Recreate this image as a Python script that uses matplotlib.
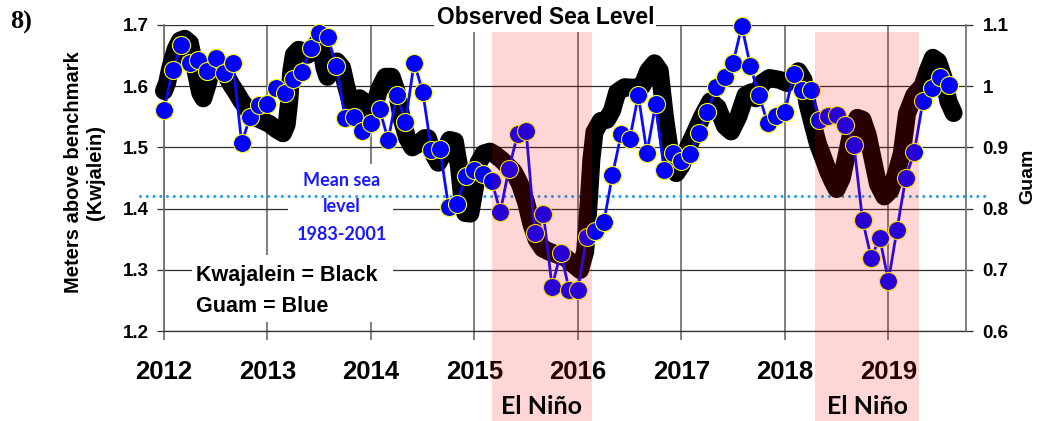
import matplotlib
matplotlib.use("Agg")
import matplotlib.pyplot as plt
import numpy as np
from matplotlib.patches import Rectangle
from matplotlib.transforms import blended_transform_factory
from matplotlib.ticker import FuncFormatter

# Kwajalein sea level, metres above benchmark (left axis)
kwaj_time = [
    2012.00, 2012.03, 2012.06, 2012.11, 2012.155, 2012.20, 2012.25, 2012.30,
    2012.35, 2012.38, 2012.42, 2012.46, 2012.51, 2012.56, 2012.605, 2012.65,
    2012.70, 2012.75, 2012.80, 2012.85, 2012.895, 2012.96, 2013.02, 2013.09,
    2013.15, 2013.185, 2013.21, 2013.23, 2013.255, 2013.30, 2013.345, 2013.39,
    2013.44, 2013.49, 2013.52, 2013.55, 2013.58, 2013.62, 2013.67, 2013.72,
    2013.76, 2013.80, 2013.85, 2013.89, 2013.93, 2013.97, 2014.02, 2014.08,
    2014.14, 2014.20, 2014.25, 2014.30, 2014.35, 2014.40, 2014.45, 2014.52,
    2014.55, 2014.60, 2014.65, 2014.70, 2014.76, 2014.81, 2014.85, 2014.88,
    2014.91, 2014.96, 2015.00, 2015.04, 2015.09, 2015.15, 2015.20, 2015.26,
    2015.32, 2015.38, 2015.44, 2015.50, 2015.55, 2015.60, 2015.66, 2015.72,
    2015.80, 2015.88, 2015.95, 2016.02, 2016.07, 2016.10, 2016.13, 2016.16,
    2016.22, 2016.28, 2016.33, 2016.38, 2016.45, 2016.55, 2016.62, 2016.68,
    2016.74, 2016.79, 2016.84, 2016.90, 2016.95, 2017.00, 2017.05, 2017.12,
    2017.20, 2017.28, 2017.35, 2017.42, 2017.48, 2017.55, 2017.62, 2017.68,
    2017.72, 2017.78, 2017.85, 2017.95, 2018.02, 2018.08, 2018.13, 2018.18,
    2018.22, 2018.27, 2018.32, 2018.37, 2018.42, 2018.46, 2018.50, 2018.55,
    2018.60, 2018.65, 2018.70, 2018.75, 2018.80, 2018.85, 2018.90, 2018.96,
    2019.02, 2019.08, 2019.13, 2019.18, 2019.25, 2019.33, 2019.38, 2019.43,
    2019.48, 2019.53, 2019.58, 2019.63,
]
kwaj_level = [
    1.592, 1.605, 1.629, 1.659, 1.674, 1.677, 1.670, 1.629,
    1.589, 1.580, 1.602, 1.629, 1.637, 1.632, 1.616, 1.602,
    1.589, 1.575, 1.564, 1.553, 1.548, 1.543, 1.538, 1.529,
    1.523, 1.537, 1.575, 1.624, 1.651, 1.659, 1.657, 1.651,
    1.659, 1.673, 1.662, 1.630, 1.615, 1.635, 1.640, 1.630,
    1.600, 1.575, 1.565, 1.580, 1.575, 1.555, 1.560, 1.595,
    1.615, 1.615, 1.590, 1.545, 1.515, 1.500, 1.505, 1.515,
    1.515, 1.490, 1.475, 1.490, 1.512, 1.510, 1.470, 1.420,
    1.393, 1.392, 1.430, 1.475, 1.490, 1.493, 1.488, 1.480,
    1.470, 1.460, 1.440, 1.410, 1.375, 1.350, 1.335, 1.330,
    1.325, 1.320, 1.310, 1.300, 1.330, 1.400, 1.480, 1.525,
    1.543, 1.545, 1.560, 1.590, 1.598, 1.597, 1.600, 1.625,
    1.637, 1.625, 1.550, 1.480, 1.458, 1.470, 1.495, 1.520,
    1.550, 1.575, 1.565, 1.535, 1.526, 1.550, 1.585, 1.590,
    1.580, 1.605, 1.613, 1.610, 1.605, 1.615, 1.624, 1.610,
    1.570, 1.537, 1.505, 1.483, 1.460, 1.445, 1.432, 1.450,
    1.490, 1.530, 1.548, 1.545, 1.520, 1.480, 1.440, 1.420,
    1.430, 1.460, 1.490, 1.555, 1.585, 1.600, 1.625, 1.646,
    1.640, 1.615, 1.575, 1.556,
]

# Guam monthly sea level from January 2012 (right axis)
guam_level = [
    0.961, 1.026, 1.067, 1.038, 1.042, 1.024, 1.046, 1.022, 1.038, 0.907, 0.950, 0.969,
    0.970, 0.997, 0.988, 1.011, 1.023, 1.062, 1.086, 1.080, 1.032, 0.948, 0.950, 0.926,
    0.939, 0.962, 0.912, 0.986, 0.941, 1.038, 0.991, 0.896, 0.897, 0.803, 0.808, 0.854,
    0.863, 0.856, 0.845, 0.795, 0.865, 0.921, 0.926, 0.760, 0.791, 0.673, 0.728, 0.667,
    0.667, 0.754, 0.763, 0.778, 0.855, 0.921, 0.913, 0.985, 0.891, 0.970, 0.863, 0.890,
    0.877, 0.889, 0.923, 0.957, 0.998, 1.015, 1.038, 1.098, 1.032, 0.985, 0.939, 0.951,
    0.958, 1.019, 0.994, 0.994, 0.945, 0.951, 0.952, 0.937, 0.904, 0.782, 0.720, 0.752,
    0.682, 0.766, 0.850, 0.892, 0.975, 0.997, 1.014, 1.001,
]
guam_time = 2012 + np.arange(len(guam_level)) / 12.0

year_ticks = [2012, 2013, 2014, 2015, 2016, 2017, 2018, 2019]
left_ticks = [1.2, 1.3, 1.4, 1.5, 1.6, 1.7]
right_ticks = [0.6, 0.7, 0.8, 0.9, 1.0, 1.1]
mean_sea_level = 1.42
el_nino_spans = [(2015.165, 2016.14), (2018.29, 2019.30)]

plt.rcParams["font.family"] = ["Liberation Sans", "DejaVu Sans"]
plt.rcParams["font.weight"] = "bold"

W, H = 1037, 421
fig = plt.figure(figsize=(W / 100, H / 100), dpi=100)


def fx(px):
    return px / W


def fy(py):
    return 1 - py / H


ax = fig.add_axes([fx(164), fy(331.3), fx(966 - 164), (331.3 - 24.7) / H])
ax.set_xlim(2012, 2019.75)
ax.set_ylim(1.2, 1.7)
ax2 = ax.twinx()
ax2.set_ylim(0.6, 1.1)

hgrid_col = "#2e2e2e"
vgrid_col = "#6a6a6a"
ax.set_axisbelow(True)
ax.yaxis.grid(True, color=hgrid_col, lw=0.9)
ax.xaxis.grid(True, color=vgrid_col, lw=1.2)
for side in ["top", "right"]:
    ax.spines[side].set_visible(False)
ax.spines["left"].set_color(vgrid_col)
ax.spines["left"].set_linewidth(1.2)
ax.spines["bottom"].set_color(hgrid_col)
ax.spines["bottom"].set_linewidth(0.9)
for side in ["top", "left", "bottom"]:
    ax2.spines[side].set_visible(False)
ax2.spines["right"].set_color(vgrid_col)
ax2.spines["right"].set_linewidth(1.2)

fmt = FuncFormatter(lambda v, p: f"{v:g}")
ax.set_xticks(year_ticks)
ax.set_xticklabels([str(y) for y in year_ticks])
ax.set_yticks(left_ticks)
ax.yaxis.set_major_formatter(fmt)
ax2.set_yticks(right_ticks)
ax2.yaxis.set_major_formatter(fmt)
ax.tick_params(axis="x", length=6.5, width=1.2, color=vgrid_col, labelsize=18.5, pad=14)
ax.tick_params(axis="y", length=5, width=0.9, color=hgrid_col, labelsize=13.5, pad=6)
ax2.tick_params(axis="y", length=5, width=0.9, color=hgrid_col, labelsize=13.5, pad=7)

# white text panels that interrupt the grid
for (x0, y0, x1, y1) in [(288, 164, 393, 255), (192, 255, 393, 322)]:
    ax.add_patch(Rectangle((fx(x0), fy(y1)), fx(x1 - x0), (y1 - y0) / H,
                           transform=fig.transFigure, facecolor="white",
                           edgecolor="none", zorder=1.2))

# mean sea level reference
ax.axhline(mean_sea_level, xmin=(140 - 164) / 802, xmax=(988 - 164) / 802,
           color="#1f9fe8", lw=2.2, ls=(0, (0.01, 2.2)), dash_capstyle="round",
           clip_on=False, zorder=1.5)

# Kwajalein record
ax.plot(kwaj_time, kwaj_level, color="black", lw=13, solid_joinstyle="round",
        solid_capstyle="round", zorder=3, clip_on=False)

# Guam record
ax2.plot(guam_time, guam_level, "-", color="#0a0aff", lw=2.0, marker="o", ms=13,
         mfc="#0000ff", mec="#ffff00", mew=0.8, zorder=3, clip_on=False)

# title panel
ax2.add_patch(Rectangle((fx(434), fy(32)), fx(656 - 434), 30 / H,
                        transform=fig.transFigure, facecolor="white",
                        edgecolor="none", zorder=5, clip_on=False))
fig.text(fx(546), fy(18), "Observed Sea Level", ha="center", va="center",
         fontsize=16.5, fontweight="bold", zorder=6)

# El Nino shading, spanning down through the axis labels
band_tr = blended_transform_factory(ax2.transData, fig.transFigure)
for x0, x1 in el_nino_spans:
    ax2.add_patch(Rectangle((x0, 0), x1 - x0, fy(31.5), transform=band_tr,
                            facecolor="red", alpha=0.16, edgecolor="none",
                            zorder=10, clip_on=False))
    ax2.text((x0 + x1) / 2, fy(407), "El Niño", transform=band_tr, ha="center",
             va="center", fontsize=18, family=["Lato", "DejaVu Sans"],
             fontweight="bold", zorder=11, clip_on=False)

blue_txt = "#1a1aff"
for py, s in [(180, "Mean sea"), (207, "level"), (235, "1983-2001")]:
    fig.text(fx(342), fy(py), s, ha="center", va="center", color=blue_txt,
             fontsize=13, family=["Lato", "DejaVu Sans"], fontweight="bold")

fig.text(fx(196), fy(276), "Kwajalein = Black", ha="left", va="center",
         fontsize=15.5, fontweight="bold")
fig.text(fx(196), fy(306), "Guam = Blue", ha="left", va="center",
         fontsize=15.5, fontweight="bold")

fig.text(fx(10), fy(22), "8)", ha="left", va="center", fontsize=19,
         family=["Liberation Serif", "DejaVu Serif"], fontweight="bold")
fig.text(fx(84.5), fy(172), "Meters above benchmark\n(Kwjalein)", rotation=90,
         ha="center", va="center", multialignment="center", fontsize=14.5,
         fontweight="bold", linespacing=1.15)
fig.text(fx(1028), fy(176), "Guam", rotation=90, ha="center", va="center",
         fontsize=14, fontweight="bold")

fig.savefig("out.png", dpi=100)
